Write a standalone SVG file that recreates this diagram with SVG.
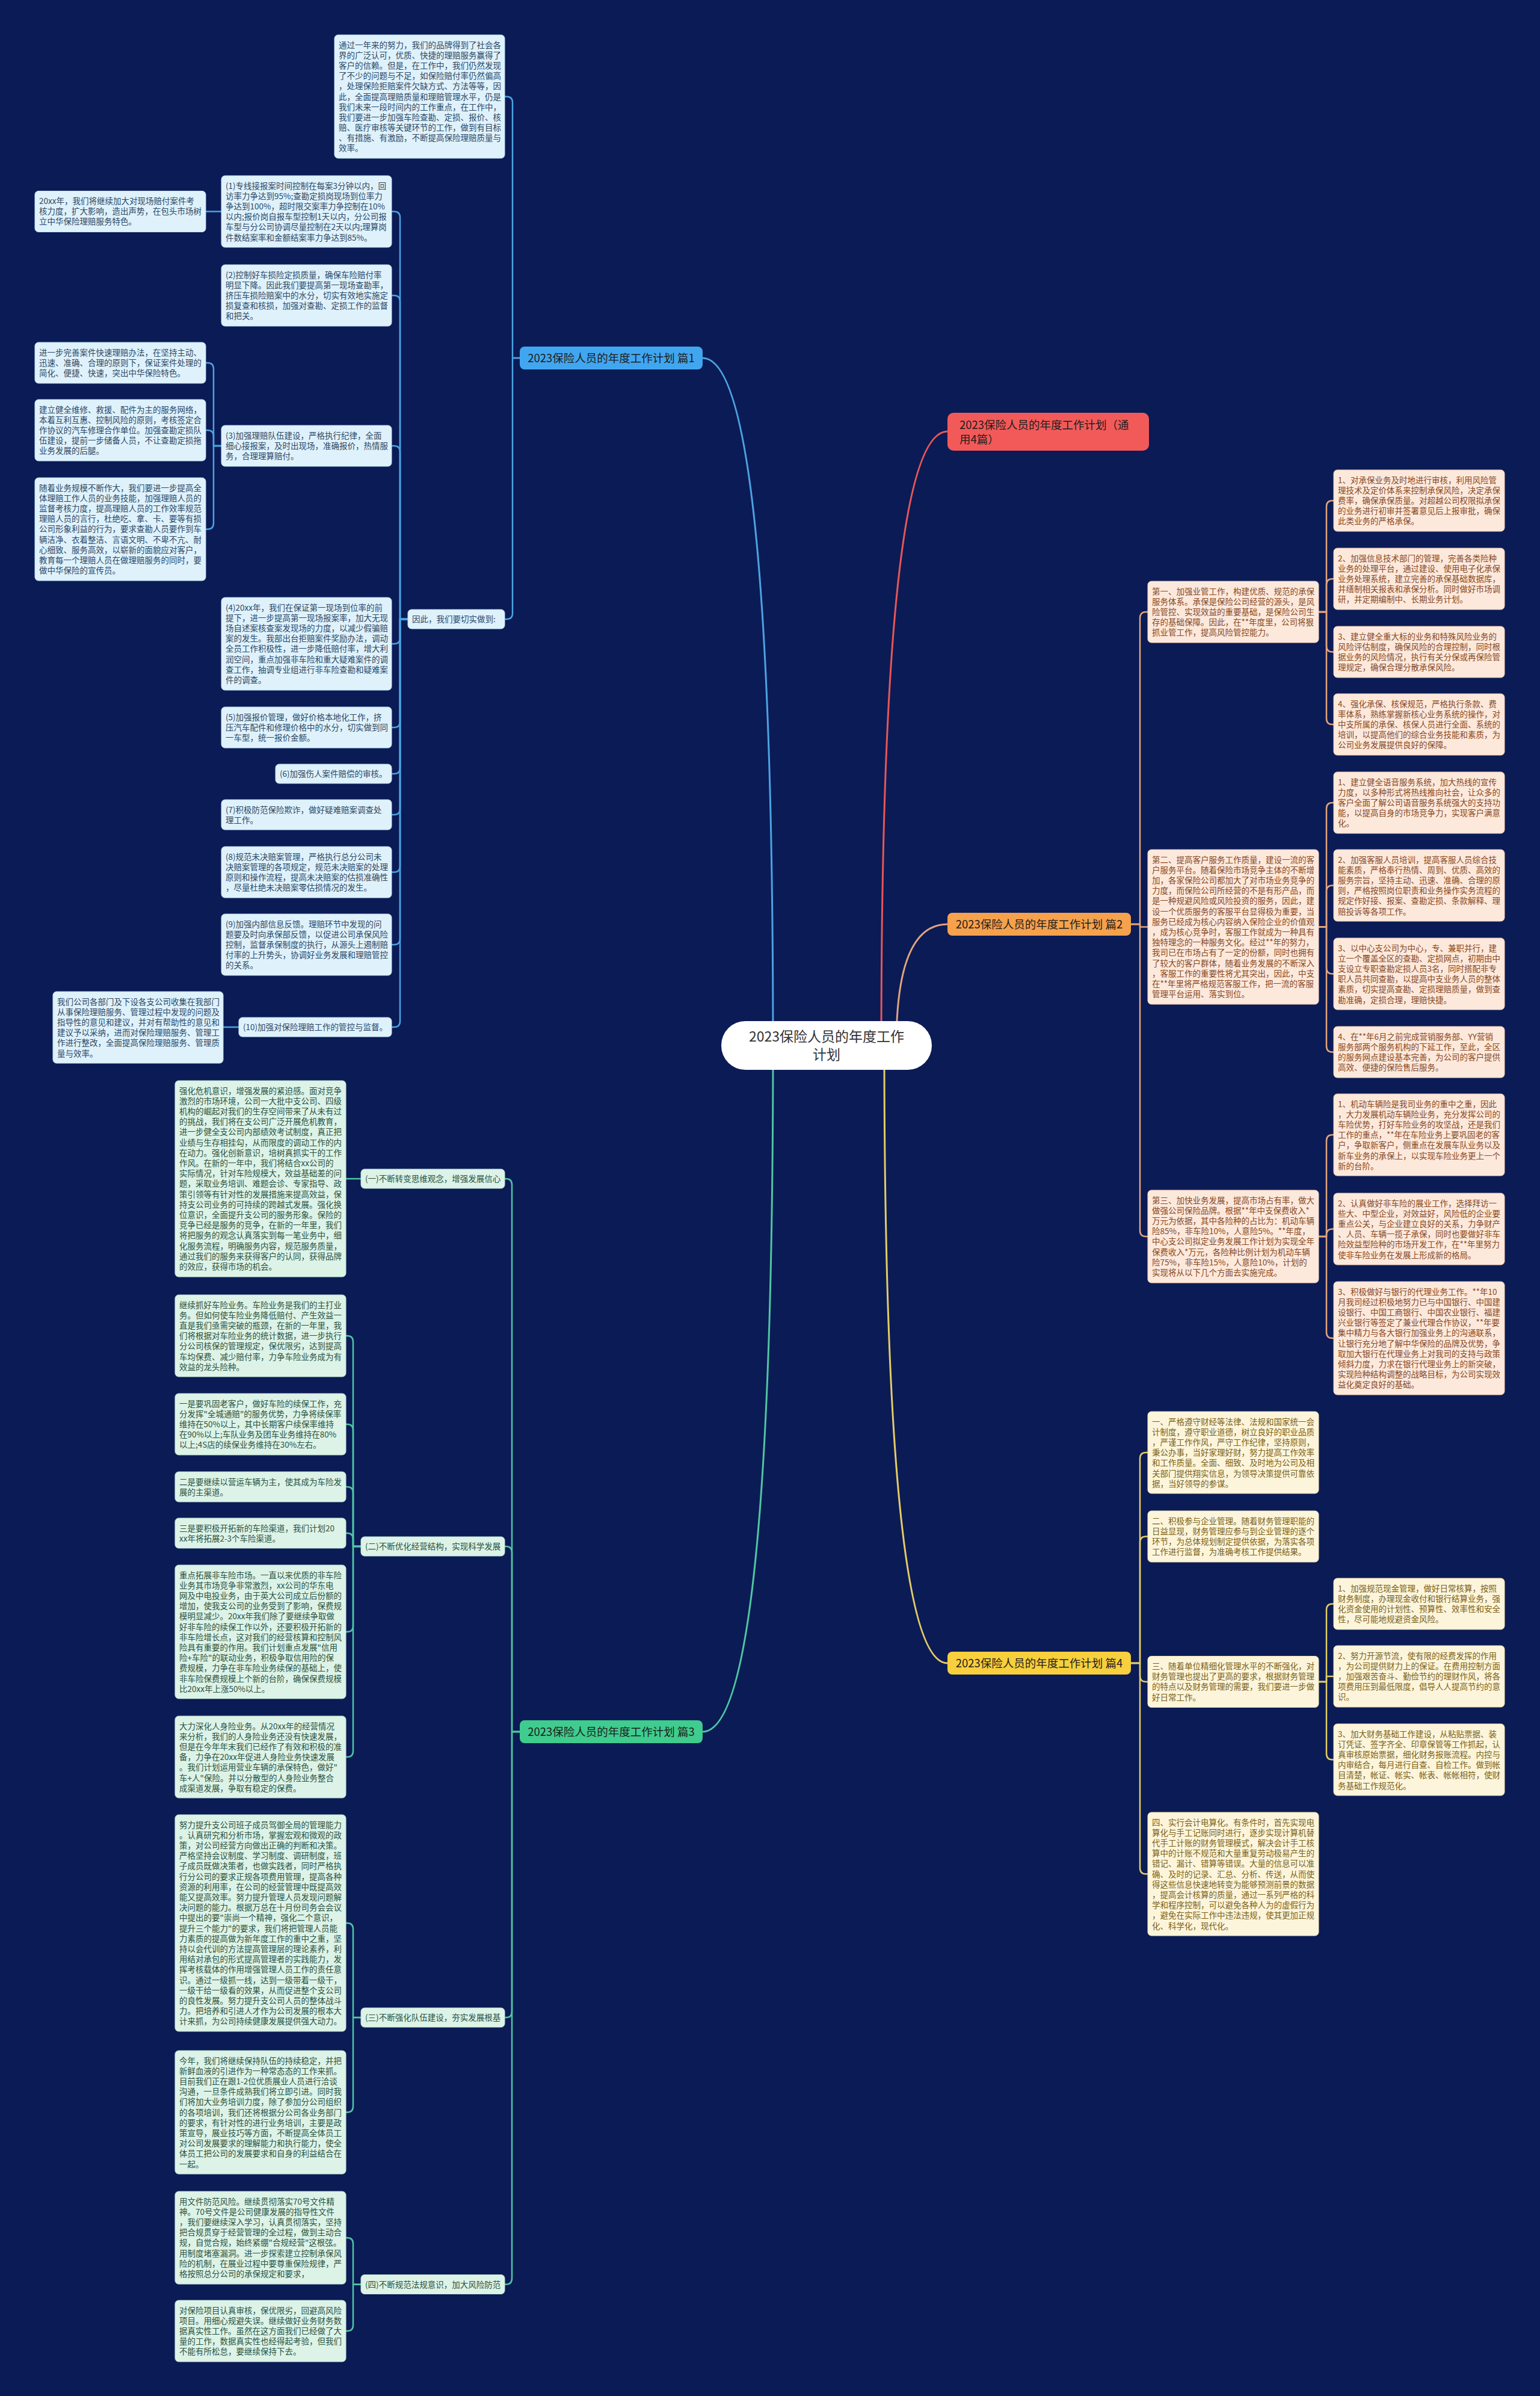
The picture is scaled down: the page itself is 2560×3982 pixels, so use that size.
<svg xmlns="http://www.w3.org/2000/svg" width="2560" height="3982" viewBox="0 0 2560 3982">
<style>
text{font-family:"Noto Sans CJK SC","Noto Sans",sans-serif;font-size:13.5px}
.c0,.c1,.c2,.c3,.c4{fill:none;stroke-width:2.5;stroke-linecap:round;stroke-linejoin:round}
.c0{stroke:#e85656;stroke-width:3}
.c1{stroke:#4ba3e3}
.c2{stroke:#e2a47c}
.c3{stroke:#4fc6a3}
.c4{stroke:#e3cc66}
.r{stroke-width:3}
.n1{fill:#dff2fc;stroke:#bcdff0;stroke-width:1}
.n2{fill:#fde9dc;stroke:#f0cdb8;stroke-width:1}
.n3{fill:#ddf3e8;stroke:#bfe3d1;stroke-width:1}
.n4{fill:#fdf5db;stroke:#efe0b0;stroke-width:1}
.x1{fill:#2c4866}
.x2{fill:#874823}
.x3{fill:#2a5240}
.x4{fill:#7a6118}
.h{font-size:18.5px;fill:#1d1d1d}
</style>
<rect x="0" y="0" width="2560" height="3982" fill="#0b1b55"/>
<g id="connectors">
<path class="c0" d="M1465,1737 Q1465,717 1575,717"/>
<path class="c1 r" d="M1285,1737 Q1285,595 1168,595"/>
<path class="c3 r" d="M1285,1737 Q1285,2878 1168,2878"/>
<path class="c2 r" d="M1490,1737 Q1490,1536 1575,1536"/>
<path class="c4 r" d="M1470,1737 Q1470,2764 1575,2764"/>
<path class="c1" d="M864,595 H852 V170.5 Q852,160.5 842,160.5 H839"/>
<path class="c1" d="M864,595 H852 V1019 Q852,1029 842,1029 H839"/>
<path class="c1" d="M678,1029 H665 V361.5 Q665,351.5 655,351.5 H651"/>
<path class="c1" d="M678,1029 H665 V501 Q665,491 655,491 H651"/>
<path class="c1" d="M678,1029 H665 V751 Q665,741 655,741 H651"/>
<path class="c1" d="M678,1029 H665 V1060 Q665,1070 655,1070 H651"/>
<path class="c1" d="M678,1029 H665 V1199 Q665,1209 655,1209 H651"/>
<path class="c1" d="M678,1029 H665 V1276 Q665,1286 655,1286 H651"/>
<path class="c1" d="M678,1029 H665 V1344 Q665,1354 655,1354 H651"/>
<path class="c1" d="M678,1029 H665 V1439.5 Q665,1449.5 655,1449.5 H651"/>
<path class="c1" d="M678,1029 H665 V1560 Q665,1570 655,1570 H651"/>
<path class="c1" d="M678,1029 H665 V1697 Q665,1707 655,1707 H651"/>
<path class="c1" d="M368,351.5 H342"/>
<path class="c1" d="M368,741 H355 V613 Q355,603 345,603 H342"/>
<path class="c1" d="M368,741 H355 V725 Q355,715 345,715 H342"/>
<path class="c1" d="M368,741 H355 V869.5 Q355,879.5 345,879.5 H342"/>
<path class="c1" d="M397,1707 H371"/>
<path class="c3" d="M864,2878 H851 V1969 Q851,1959 841,1959 H839"/>
<path class="c3" d="M864,2878 H851 V2580 Q851,2570 841,2570 H839"/>
<path class="c3" d="M864,2878 H851 V3343 Q851,3353 841,3353 H839"/>
<path class="c3" d="M864,2878 H851 V3786.5 Q851,3796.5 841,3796.5 H839"/>
<path class="c3" d="M600,1959 H575"/>
<path class="c3" d="M600,2570 H587 V2230 Q587,2220 577,2220 H575"/>
<path class="c3" d="M600,2570 H587 V2377 Q587,2367 577,2367 H575"/>
<path class="c3" d="M600,2570 H587 V2481 Q587,2471 577,2471 H575"/>
<path class="c3" d="M600,2570 H587 V2558 Q587,2548 577,2548 H575"/>
<path class="c3" d="M600,2570 H587 V2702 Q587,2712 577,2712 H575"/>
<path class="c3" d="M600,2570 H587 V2910 Q587,2920 577,2920 H575"/>
<path class="c3" d="M600,3353 H587 V3206 Q587,3196 577,3196 H575"/>
<path class="c3" d="M600,3353 H587 V3500.5 Q587,3510.5 577,3510.5 H575"/>
<path class="c3" d="M600,3796.5 H587 V3729 Q587,3719 577,3719 H575"/>
<path class="c3" d="M600,3796.5 H587 V3864 Q587,3874 577,3874 H575"/>
<path class="c2" d="M1880,1536 H1895 V1027 Q1895,1017 1905,1017 H1908"/>
<path class="c2" d="M1880,1536 H1895 V1540.5 H1908"/>
<path class="c2" d="M1880,1536 H1895 V2045 Q1895,2055 1905,2055 H1908"/>
<path class="c2" d="M2192,1017 H2205 V842 Q2205,832 2215,832 H2217"/>
<path class="c2" d="M2192,1017 H2205 V972 Q2205,962 2215,962 H2217"/>
<path class="c2" d="M2192,1017 H2205 V1073.5 Q2205,1083.5 2215,1083.5 H2217"/>
<path class="c2" d="M2192,1017 H2205 V1194 Q2205,1204 2215,1204 H2217"/>
<path class="c2" d="M2192,1540.5 H2205 V1344 Q2205,1334 2215,1334 H2217"/>
<path class="c2" d="M2192,1540.5 H2205 V1481.5 Q2205,1471.5 2215,1471.5 H2217"/>
<path class="c2" d="M2192,1540.5 H2205 V1608.5 Q2205,1618.5 2215,1618.5 H2217"/>
<path class="c2" d="M2192,1540.5 H2205 V1738.5 Q2205,1748.5 2215,1748.5 H2217"/>
<path class="c2" d="M2192,2055 H2205 V1896 Q2205,1886 2215,1886 H2217"/>
<path class="c2" d="M2192,2055 H2205 V2052.5 Q2205,2042.5 2215,2042.5 H2217"/>
<path class="c2" d="M2192,2055 H2205 V2214 Q2205,2224 2215,2224 H2217"/>
<path class="c4" d="M1880,2764 H1895 V2424 Q1895,2414 1905,2414 H1908"/>
<path class="c4" d="M1880,2764 H1895 V2563.5 Q1895,2553.5 1905,2553.5 H1908"/>
<path class="c4" d="M1880,2764 H1895 V2785 Q1895,2795 1905,2795 H1908"/>
<path class="c4" d="M1880,2764 H1895 V3104.5 Q1895,3114.5 1905,3114.5 H1908"/>
<path class="c4" d="M2192,2795 H2205 V2675.5 Q2205,2665.5 2215,2665.5 H2217"/>
<path class="c4" d="M2192,2795 H2205 V2786 H2217"/>
<path class="c4" d="M2192,2795 H2205 V2914.5 Q2205,2924.5 2215,2924.5 H2217"/>
</g>
<g id="root"><rect x="1199" y="1697" width="350" height="81" rx="40" fill="#ffffff"/><text x="1374" y="1731" text-anchor="middle" style="font-size:23px;fill:#333"><tspan x="1374">2023保险人员的年度工作</tspan><tspan x="1374" dy="30">计划</tspan></text></g>
<g id="p0"><rect x="1575" y="686" width="335" height="63" rx="10" fill="#f25a5a"/><text class="h" x="1595" y="712.5"><tspan x="1595">2023保险人员的年度工作计划（通</tspan><tspan x="1595" dy="24">用4篇）</tspan></text></g>
<g id="p1"><rect x="864" y="576" width="304" height="38" rx="8" fill="#41a6f0"/><text class="h" x="1016" y="601.5" text-anchor="middle">2023保险人员的年度工作计划 篇1</text></g>
<g id="p2"><rect x="1575" y="1517" width="305" height="38" rx="8" fill="#f6a14c"/><text class="h" x="1727.5" y="1542.5" text-anchor="middle">2023保险人员的年度工作计划 篇2</text></g>
<g id="p3"><rect x="864" y="2859" width="304" height="38" rx="8" fill="#3fcc8e"/><text class="h" x="1016" y="2884.5" text-anchor="middle">2023保险人员的年度工作计划 篇3</text></g>
<g id="p4"><rect x="1575" y="2745" width="305" height="38" rx="8" fill="#f8cf3c"/><text class="h" x="1727.5" y="2770.5" text-anchor="middle">2023保险人员的年度工作计划 篇4</text></g>
<g id="a-top"><rect class="n1" x="556" y="58" width="283" height="205" rx="6"/><text class="x1" x="563" y="79.5"><tspan x="563">通过一年来的努力，我们的品牌得到了社会各</tspan><tspan x="563" dy="17.2">界的广泛认可，优质、快捷的理赔服务赢得了</tspan><tspan x="563" dy="17.2">客户的信赖。但是，在工作中，我们仍然发现</tspan><tspan x="563" dy="17.2">了不少的问题与不足，如保险赔付率仍然偏高</tspan><tspan x="563" dy="17.2">，处理保险拒赔案件欠缺方式、方法等等，因</tspan><tspan x="563" dy="17.2">此，全面提高理赔质量和理赔管理水平，仍是</tspan><tspan x="563" dy="17.2">我们未来一段时间内的工作重点，在工作中，</tspan><tspan x="563" dy="17.2">我们要进一步加强车险查勘、定损、报价、核</tspan><tspan x="563" dy="17.2">赔、医疗审核等关键环节的工作，做到有目标</tspan><tspan x="563" dy="17.2">、有措施、有激励，不断提高保险理赔质量与</tspan><tspan x="563" dy="17.2">效率。</tspan></text></g>
<g id="a-yc"><rect class="n1" x="678" y="1013" width="161" height="32" rx="6"/><text class="x1" x="685" y="1034">因此，我们要切实做到:</text></g>
<g id="a1"><rect class="n1" x="368" y="292" width="283" height="119" rx="6"/><text class="x1" x="375" y="313.5"><tspan x="375">(1)专线接报案时间控制在每案3分钟以内，回</tspan><tspan x="375" dy="17.2">访率力争达到95%;查勘定损岗现场到位率力</tspan><tspan x="375" dy="17.2">争达到100%，超时限交案率力争控制在10%</tspan><tspan x="375" dy="17.2">以内;报价岗自报车型控制1天以内，分公司报</tspan><tspan x="375" dy="17.2">车型与分公司协调尽量控制在2天以内;理算岗</tspan><tspan x="375" dy="17.2">件数结案率和金额结案率力争达到85%。</tspan></text></g>
<g id="a1-1"><rect class="n1" x="58" y="317.5" width="284" height="68" rx="6"/><text class="x1" x="65" y="339"><tspan x="65">20xx年，我们将继续加大对现场赔付案件考</tspan><tspan x="65" dy="17.2">核力度，扩大影响，造出声势，在包头市场树</tspan><tspan x="65" dy="17.2">立中华保险理赔服务特色。</tspan></text></g>
<g id="a2"><rect class="n1" x="368" y="440" width="283" height="102" rx="6"/><text class="x1" x="375" y="461.5"><tspan x="375">(2)控制好车损险定损质量，确保车险赔付率</tspan><tspan x="375" dy="17.2">明显下降。因此我们要提高第一现场查勘率，</tspan><tspan x="375" dy="17.2">挤压车损险赔案中的水分，切实有效地实施定</tspan><tspan x="375" dy="17.2">损复查和核损，加强对查勘、定损工作的监督</tspan><tspan x="375" dy="17.2">和把关。</tspan></text></g>
<g id="a3"><rect class="n1" x="368" y="707" width="283" height="68" rx="6"/><text class="x1" x="375" y="728.5"><tspan x="375">(3)加强理赔队伍建设，严格执行纪律，全面</tspan><tspan x="375" dy="17.2">细心接报案，及时出现场，准确报价，热情服</tspan><tspan x="375" dy="17.2">务，合理理算赔付。</tspan></text></g>
<g id="a3-1"><rect class="n1" x="58" y="569" width="284" height="68" rx="6"/><text class="x1" x="65" y="590.5"><tspan x="65">进一步完善案件快速理赔办法，在坚持主动、</tspan><tspan x="65" dy="17.2">迅速、准确、合理的原则下，保证案件处理的</tspan><tspan x="65" dy="17.2">简化、便捷、快速，突出中华保险特色。</tspan></text></g>
<g id="a3-2"><rect class="n1" x="58" y="664" width="284" height="102" rx="6"/><text class="x1" x="65" y="685.5"><tspan x="65">建立健全维修、救援、配件为主的服务网络，</tspan><tspan x="65" dy="17.2">本着互利互惠、控制风险的原则，考核签定合</tspan><tspan x="65" dy="17.2">作协议的汽车修理合作单位。加强查勘定损队</tspan><tspan x="65" dy="17.2">伍建设，提前一步储备人员，不让查勘定损拖</tspan><tspan x="65" dy="17.2">业务发展的后腿。</tspan></text></g>
<g id="a3-3"><rect class="n1" x="58" y="794" width="284" height="171" rx="6"/><text class="x1" x="65" y="815.5"><tspan x="65">随着业务规模不断作大，我们要进一步提高全</tspan><tspan x="65" dy="17.2">体理赔工作人员的业务技能，加强理赔人员的</tspan><tspan x="65" dy="17.2">监督考核力度，提高理赔人员的工作效率规范</tspan><tspan x="65" dy="17.2">理赔人员的言行，杜绝吃、拿、卡、要等有损</tspan><tspan x="65" dy="17.2">公司形象利益的行为，要求查勘人员要作到车</tspan><tspan x="65" dy="17.2">辆洁净、衣着整洁、言语文明、不卑不亢、耐</tspan><tspan x="65" dy="17.2">心细致、服务高效，以崭新的面貌应对客户，</tspan><tspan x="65" dy="17.2">教育每一个理赔人员在做理赔服务的同时，要</tspan><tspan x="65" dy="17.2">做中华保险的宣传员。</tspan></text></g>
<g id="a4"><rect class="n1" x="368" y="993" width="283" height="154" rx="6"/><text class="x1" x="375" y="1014.5"><tspan x="375">(4)20xx年，我们在保证第一现场到位率的前</tspan><tspan x="375" dy="17.2">提下，进一步提高第一现场报案率，加大无现</tspan><tspan x="375" dy="17.2">场自述案核查案发现场的力度，以减少假骗赔</tspan><tspan x="375" dy="17.2">案的发生。我部出台拒赔案件奖励办法，调动</tspan><tspan x="375" dy="17.2">全员工作积极性，进一步降低赔付率，增大利</tspan><tspan x="375" dy="17.2">润空间，重点加强非车险和重大疑难案件的调</tspan><tspan x="375" dy="17.2">查工作，抽调专业组进行非车险查勘和疑难案</tspan><tspan x="375" dy="17.2">件的调查。</tspan></text></g>
<g id="a5"><rect class="n1" x="368" y="1175" width="283" height="68" rx="6"/><text class="x1" x="375" y="1196.5"><tspan x="375">(5)加强报价管理，做好价格本地化工作，挤</tspan><tspan x="375" dy="17.2">压汽车配件和修理价格中的水分，切实做到同</tspan><tspan x="375" dy="17.2">一车型，统一报价金额。</tspan></text></g>
<g id="a6"><rect class="n1" x="458" y="1270" width="193" height="32" rx="6"/><text class="x1" x="465" y="1291">(6)加强伤人案件赔偿的审核。</text></g>
<g id="a7"><rect class="n1" x="368" y="1329" width="283" height="50" rx="6"/><text class="x1" x="375" y="1350.5"><tspan x="375">(7)积极防范保险欺诈，做好疑难赔案调查处</tspan><tspan x="375" dy="17.2">理工作。</tspan></text></g>
<g id="a8"><rect class="n1" x="368" y="1407" width="283" height="85" rx="6"/><text class="x1" x="375" y="1428.5"><tspan x="375">(8)规范未决赔案管理，严格执行总分公司未</tspan><tspan x="375" dy="17.2">决赔案管理的各项规定，规范未决赔案的处理</tspan><tspan x="375" dy="17.2">原则和操作流程，提高未决赔案的估损准确性</tspan><tspan x="375" dy="17.2">，尽量杜绝未决赔案零估损情况的发生。</tspan></text></g>
<g id="a9"><rect class="n1" x="368" y="1519" width="283" height="102" rx="6"/><text class="x1" x="375" y="1540.5"><tspan x="375">(9)加强内部信息反馈。理赔环节中发现的问</tspan><tspan x="375" dy="17.2">题要及时向承保部反馈，以促进公司承保风险</tspan><tspan x="375" dy="17.2">控制，监督承保制度的执行，从源头上遏制赔</tspan><tspan x="375" dy="17.2">付率的上升势头，协调好业务发展和理赔管控</tspan><tspan x="375" dy="17.2">的关系。</tspan></text></g>
<g id="a10"><rect class="n1" x="397" y="1691" width="254" height="32" rx="6"/><text class="x1" x="404" y="1712">(10)加强对保险理赔工作的管控与监督。</text></g>
<g id="a10-1"><rect class="n1" x="88" y="1648" width="283" height="119" rx="6"/><text class="x1" x="95" y="1669.5"><tspan x="95">我们公司各部门及下设各支公司收集在我部门</tspan><tspan x="95" dy="17.2">从事保险理赔服务、管理过程中发现的问题及</tspan><tspan x="95" dy="17.2">指导性的意见和建议，并对有帮助性的意见和</tspan><tspan x="95" dy="17.2">建议予以采纳，进而对保险理赔服务、管理工</tspan><tspan x="95" dy="17.2">作进行整改，全面提高保险理赔服务、管理质</tspan><tspan x="95" dy="17.2">量与效率。</tspan></text></g>
<g id="c-l1"><rect class="n3" x="600" y="1943" width="239" height="32" rx="6"/><text class="x3" x="607" y="1964">(一)不断转变思维观念，增强发展信心</text></g>
<g id="c-l2"><rect class="n3" x="600" y="2554" width="239" height="32" rx="6"/><text class="x3" x="607" y="2575">(二)不断优化经营结构，实现科学发展</text></g>
<g id="c-l3"><rect class="n3" x="600" y="3337" width="239" height="32" rx="6"/><text class="x3" x="607" y="3358">(三)不断强化队伍建设，夯实发展根基</text></g>
<g id="c-l4"><rect class="n3" x="600" y="3780.5" width="239" height="32" rx="6"/><text class="x3" x="607" y="3801.5">(四)不断规范法规意识，加大风险防范</text></g>
<g id="c1"><rect class="n3" x="291" y="1796" width="284" height="326" rx="6"/><text class="x3" x="298" y="1817.5"><tspan x="298">强化危机意识，增强发展的紧迫感。面对竞争</tspan><tspan x="298" dy="17.2">激烈的市场环境，公司一大批中支公司、四级</tspan><tspan x="298" dy="17.2">机构的崛起对我们的生存空间带来了从未有过</tspan><tspan x="298" dy="17.2">的挑战，我们将在支公司广泛开展危机教育，</tspan><tspan x="298" dy="17.2">进一步健全支公司内部绩效考试制度，真正把</tspan><tspan x="298" dy="17.2">业绩与生存相挂勾，从而限度的调动工作的内</tspan><tspan x="298" dy="17.2">在动力。强化创新意识，培树真抓实干的工作</tspan><tspan x="298" dy="17.2">作风。在新的一年中，我们将结合xx公司的</tspan><tspan x="298" dy="17.2">实际情况，针对车险规模大，效益基础差的问</tspan><tspan x="298" dy="17.2">题，采取业务培训、难题会诊、专家指导、政</tspan><tspan x="298" dy="17.2">策引领等有针对性的发展措施来提高效益，保</tspan><tspan x="298" dy="17.2">持支公司业务的可持续的跨越式发展。强化换</tspan><tspan x="298" dy="17.2">位意识，全面提升支公司的服务形象。保险的</tspan><tspan x="298" dy="17.2">竞争已经是服务的竞争，在新的一年里，我们</tspan><tspan x="298" dy="17.2">将把服务的观念认真落实到每一笔业务中，细</tspan><tspan x="298" dy="17.2">化服务流程，明确服务内容，规范服务质量，</tspan><tspan x="298" dy="17.2">通过我们的服务来获得客户的认同，获得品牌</tspan><tspan x="298" dy="17.2">的效应，获得市场的机会。</tspan></text></g>
<g id="c2"><rect class="n3" x="291" y="2152" width="284" height="136" rx="6"/><text class="x3" x="298" y="2173.5"><tspan x="298">继续抓好车险业务。车险业务是我们的主打业</tspan><tspan x="298" dy="17.2">务。但如何使车险业务降低赔付、产生效益一</tspan><tspan x="298" dy="17.2">直是我们亟需突破的瓶颈，在新的一年里，我</tspan><tspan x="298" dy="17.2">们将根据对车险业务的统计数据，进一步执行</tspan><tspan x="298" dy="17.2">分公司核保的管理规定，保优限劣，达到提高</tspan><tspan x="298" dy="17.2">车均保费、减少赔付率，力争车险业务成为有</tspan><tspan x="298" dy="17.2">效益的龙头险种。</tspan></text></g>
<g id="c3"><rect class="n3" x="291" y="2316" width="284" height="102" rx="6"/><text class="x3" x="298" y="2337.5"><tspan x="298">一是要巩固老客户，做好车险的续保工作，充</tspan><tspan x="298" dy="17.2">分发挥"全城通赔"的服务优势，力争将续保率</tspan><tspan x="298" dy="17.2">维持在50%以上，其中长期客户续保率维持</tspan><tspan x="298" dy="17.2">在90%以上;车队业务及团车业务维持在80%</tspan><tspan x="298" dy="17.2">以上;4S店的续保业务维持在30%左右。</tspan></text></g>
<g id="c4"><rect class="n3" x="291" y="2446" width="284" height="50" rx="6"/><text class="x3" x="298" y="2467.5"><tspan x="298">二是要继续以营运车辆为主，使其成为车险发</tspan><tspan x="298" dy="17.2">展的主渠道。</tspan></text></g>
<g id="c5"><rect class="n3" x="291" y="2523" width="284" height="50" rx="6"/><text class="x3" x="298" y="2544.5"><tspan x="298">三是要积极开拓新的车险渠道，我们计划20</tspan><tspan x="298" dy="17.2">xx年将拓展2-3个车险渠道。</tspan></text></g>
<g id="c6"><rect class="n3" x="291" y="2601" width="284" height="222" rx="6"/><text class="x3" x="298" y="2622.5"><tspan x="298">重点拓展非车险市场。一直以来优质的非车险</tspan><tspan x="298" dy="17.2">业务其市场竞争非常激烈，xx公司的华东电</tspan><tspan x="298" dy="17.2">网及中电投业务，由于英大公司成立后份额的</tspan><tspan x="298" dy="17.2">增加，使我支公司的业务受到了影响，保费规</tspan><tspan x="298" dy="17.2">模明显减少。20xx年我们除了要继续争取做</tspan><tspan x="298" dy="17.2">好非车险的续保工作以外，还要积极开拓新的</tspan><tspan x="298" dy="17.2">非车险增长点，这对我们的经营核算和控制风</tspan><tspan x="298" dy="17.2">险具有重要的作用。我们计划重点发展"信用</tspan><tspan x="298" dy="17.2">险+车险"的联动业务，积极争取信用险的保</tspan><tspan x="298" dy="17.2">费规模，力争在非车险业务续保的基础上，使</tspan><tspan x="298" dy="17.2">非车险保费规模上个新的台阶，确保保费规模</tspan><tspan x="298" dy="17.2">比20xx年上涨50%以上。</tspan></text></g>
<g id="c7"><rect class="n3" x="291" y="2852" width="284" height="136" rx="6"/><text class="x3" x="298" y="2873.5"><tspan x="298">大力深化人身险业务。从20xx年的经营情况</tspan><tspan x="298" dy="17.2">来分析，我们的人身险业务还没有快速发展，</tspan><tspan x="298" dy="17.2">但是在今年年末我们已经作了有效和积极的准</tspan><tspan x="298" dy="17.2">备，力争在20xx年促进人身险业务快速发展</tspan><tspan x="298" dy="17.2">。我们计划运用营业车辆的承保特色，做好"</tspan><tspan x="298" dy="17.2">车+人"保险。并以分散型的人身险业务整合</tspan><tspan x="298" dy="17.2">成渠道发展，争取有稳定的保费。</tspan></text></g>
<g id="c8"><rect class="n3" x="291" y="3016" width="284" height="360" rx="6"/><text class="x3" x="298" y="3037.5"><tspan x="298">努力提升支公司班子成员驾御全局的管理能力</tspan><tspan x="298" dy="17.2">。认真研究和分析市场，掌握宏观和微观的政</tspan><tspan x="298" dy="17.2">策，对公司经营方向做出正确的判断和决策。</tspan><tspan x="298" dy="17.2">严格坚持会议制度、学习制度、调研制度，班</tspan><tspan x="298" dy="17.2">子成员既做决策者，也做实践者，同时严格执</tspan><tspan x="298" dy="17.2">行分公司的要求正规各项费用管理，提高各种</tspan><tspan x="298" dy="17.2">资源的利用率，在公司的经营管理中既提高效</tspan><tspan x="298" dy="17.2">能又提高效率。努力提升管理人员发现问题解</tspan><tspan x="298" dy="17.2">决问题的能力。根据万总在十月份司务会会议</tspan><tspan x="298" dy="17.2">中提出的要"崇尚一个精神，强化二个意识，</tspan><tspan x="298" dy="17.2">提升三个能力"的要求，我们将把管理人员能</tspan><tspan x="298" dy="17.2">力素质的提高做为新年度工作的重中之重，坚</tspan><tspan x="298" dy="17.2">持以会代训的方法提高管理层的理论素养，利</tspan><tspan x="298" dy="17.2">用结对承包的形式提高管理者的实践能力，发</tspan><tspan x="298" dy="17.2">挥考核载体的作用增强管理人员工作的责任意</tspan><tspan x="298" dy="17.2">识。通过一级抓一线，达到一级带着一级干，</tspan><tspan x="298" dy="17.2">一级干给一级看的效果，从而促进整个支公司</tspan><tspan x="298" dy="17.2">的良性发展。努力提升支公司人员的整体战斗</tspan><tspan x="298" dy="17.2">力。把培养和引进人才作为公司发展的根本大</tspan><tspan x="298" dy="17.2">计来抓，为公司持续健康发展提供强大动力。</tspan></text></g>
<g id="c9"><rect class="n3" x="291" y="3408" width="284" height="205" rx="6"/><text class="x3" x="298" y="3429.5"><tspan x="298">今年，我们将继续保持队伍的持续稳定，并把</tspan><tspan x="298" dy="17.2">新鲜血液的引进作为一种常态态的工作来抓。</tspan><tspan x="298" dy="17.2">目前我们正在跟1-2位优质展业人员进行洽谈</tspan><tspan x="298" dy="17.2">沟通，一旦条件成熟我们将立即引进。同时我</tspan><tspan x="298" dy="17.2">们将加大业务培训力度，除了参加分公司组织</tspan><tspan x="298" dy="17.2">的各项培训，我们还将根据分公司各业务部门</tspan><tspan x="298" dy="17.2">的要求，有针对性的进行业务培训，主要是政</tspan><tspan x="298" dy="17.2">策宣导，展业技巧等方面，不断提高全体员工</tspan><tspan x="298" dy="17.2">对公司发展要求的理解能力和执行能力，使全</tspan><tspan x="298" dy="17.2">体员工把公司的发展要求和自身的利益结合在</tspan><tspan x="298" dy="17.2">一起。</tspan></text></g>
<g id="c10"><rect class="n3" x="291" y="3642" width="284" height="154" rx="6"/><text class="x3" x="298" y="3663.5"><tspan x="298">用文件防范风险。继续贯彻落实70号文件精</tspan><tspan x="298" dy="17.2">神。70号文件是公司健康发展的指导性文件</tspan><tspan x="298" dy="17.2">，我们要继续深入学习，认真贯彻落实，坚持</tspan><tspan x="298" dy="17.2">把合规贯穿于经营管理的全过程，做到主动合</tspan><tspan x="298" dy="17.2">规，自觉合规，始终紧绷"合规经营"这根弦。</tspan><tspan x="298" dy="17.2">用制度堵塞漏洞。进一步探索建立控制承保风</tspan><tspan x="298" dy="17.2">险的机制，在展业过程中要尊重保险规律，严</tspan><tspan x="298" dy="17.2">格按照总分公司的承保规定和要求，</tspan></text></g>
<g id="c11"><rect class="n3" x="291" y="3823" width="284" height="102" rx="6"/><text class="x3" x="298" y="3844.5"><tspan x="298">对保险项目认真审核，保优限劣，回避高风险</tspan><tspan x="298" dy="17.2">项目。用细心规避失误。继续做好业务财务数</tspan><tspan x="298" dy="17.2">据真实性工作。虽然在这方面我们已经做了大</tspan><tspan x="298" dy="17.2">量的工作，数据真实性也经得起考验，但我们</tspan><tspan x="298" dy="17.2">不能有所松怠，要继续保持下去。</tspan></text></g>
<g id="b1"><rect class="n2" x="1908" y="966" width="284" height="102" rx="6"/><text class="x2" x="1915" y="987.5"><tspan x="1915">第一、加强业管工作，构建优质、规范的承保</tspan><tspan x="1915" dy="17.2">服务体系。承保是保险公司经营的源头，是风</tspan><tspan x="1915" dy="17.2">险管控、实现效益的重要基础，是保险公司生</tspan><tspan x="1915" dy="17.2">存的基础保障。因此，在**年度里，公司将狠</tspan><tspan x="1915" dy="17.2">抓业管工作，提高风险管控能力。</tspan></text></g>
<g id="b1-1"><rect class="n2" x="2217" y="781" width="284" height="102" rx="6"/><text class="x2" x="2224" y="802.5"><tspan x="2224">1、对承保业务及时地进行审核，利用风险管</tspan><tspan x="2224" dy="17.2">理技术及定价体系来控制承保风险，决定承保</tspan><tspan x="2224" dy="17.2">费率，确保承保质量。对超越公司权限拟承保</tspan><tspan x="2224" dy="17.2">的业务进行初审并签署意见后上报审批，确保</tspan><tspan x="2224" dy="17.2">此类业务的严格承保。</tspan></text></g>
<g id="b1-2"><rect class="n2" x="2217" y="911" width="284" height="102" rx="6"/><text class="x2" x="2224" y="932.5"><tspan x="2224">2、加强信息技术部门的管理，完善各类险种</tspan><tspan x="2224" dy="17.2">业务的处理平台，通过建设、使用电子化承保</tspan><tspan x="2224" dy="17.2">业务处理系统，建立完善的承保基础数据库，</tspan><tspan x="2224" dy="17.2">并缮制相关报表和承保分析。同时做好市场调</tspan><tspan x="2224" dy="17.2">研，并定期编制中、长期业务计划。</tspan></text></g>
<g id="b1-3"><rect class="n2" x="2217" y="1041" width="284" height="85" rx="6"/><text class="x2" x="2224" y="1062.5"><tspan x="2224">3、建立健全重大标的业务和特殊风险业务的</tspan><tspan x="2224" dy="17.2">风险评估制度，确保风险的合理控制，同时根</tspan><tspan x="2224" dy="17.2">据业务的风险情况，执行有关分保或再保险管</tspan><tspan x="2224" dy="17.2">理规定，确保合理分散承保风险。</tspan></text></g>
<g id="b1-4"><rect class="n2" x="2217" y="1153" width="284" height="102" rx="6"/><text class="x2" x="2224" y="1174.5"><tspan x="2224">4、强化承保、核保规范，严格执行条款、费</tspan><tspan x="2224" dy="17.2">率体系，熟练掌握新核心业务系统的操作，对</tspan><tspan x="2224" dy="17.2">中支所属的承保、核保人员进行全面、系统的</tspan><tspan x="2224" dy="17.2">培训，以提高他们的综合业务技能和素质，为</tspan><tspan x="2224" dy="17.2">公司业务发展提供良好的保障。</tspan></text></g>
<g id="b2"><rect class="n2" x="1908" y="1412" width="284" height="257" rx="6"/><text class="x2" x="1915" y="1433.5"><tspan x="1915">第二、提高客户服务工作质量，建设一流的客</tspan><tspan x="1915" dy="17.2">户服务平台。随着保险市场竞争主体的不断增</tspan><tspan x="1915" dy="17.2">加，各家保险公司都加大了对市场业务竞争的</tspan><tspan x="1915" dy="17.2">力度，而保险公司所经营的不是有形产品，而</tspan><tspan x="1915" dy="17.2">是一种规避风险或风险投资的服务，因此，建</tspan><tspan x="1915" dy="17.2">设一个优质服务的客服平台显得极为重要，当</tspan><tspan x="1915" dy="17.2">服务已经成为核心内容纳入保险企业的价值观</tspan><tspan x="1915" dy="17.2">，成为核心竞争时，客服工作就成为一种具有</tspan><tspan x="1915" dy="17.2">独特理念的一种服务文化。经过**年的努力，</tspan><tspan x="1915" dy="17.2">我司已在市场占有了一定的份额，同时也拥有</tspan><tspan x="1915" dy="17.2">了较大的客户群体，随着业务发展的不断深入</tspan><tspan x="1915" dy="17.2">，客服工作的重要性将尤其突出，因此，中支</tspan><tspan x="1915" dy="17.2">在**年里将严格规范客服工作，把一流的客服</tspan><tspan x="1915" dy="17.2">管理平台运用、落实到位。</tspan></text></g>
<g id="b2-1"><rect class="n2" x="2217" y="1283" width="284" height="102" rx="6"/><text class="x2" x="2224" y="1304.5"><tspan x="2224">1、建立健全语音服务系统，加大热线的宣传</tspan><tspan x="2224" dy="17.2">力度，以多种形式将热线推向社会，让众多的</tspan><tspan x="2224" dy="17.2">客户全面了解公司语音服务系统强大的支持功</tspan><tspan x="2224" dy="17.2">能，以提高自身的市场竞争力，实现客户满意</tspan><tspan x="2224" dy="17.2">化。</tspan></text></g>
<g id="b2-2"><rect class="n2" x="2217" y="1412" width="284" height="119" rx="6"/><text class="x2" x="2224" y="1433.5"><tspan x="2224">2、加强客服人员培训，提高客服人员综合技</tspan><tspan x="2224" dy="17.2">能素质，严格奉行热情、周到、优质、高效的</tspan><tspan x="2224" dy="17.2">服务宗旨，坚持主动、迅速、准确、合理的原</tspan><tspan x="2224" dy="17.2">则，严格按照岗位职责和业务操作实务流程的</tspan><tspan x="2224" dy="17.2">规定作好接、报案、查勘定损、条款解释、理</tspan><tspan x="2224" dy="17.2">赔投诉等各项工作。</tspan></text></g>
<g id="b2-3"><rect class="n2" x="2217" y="1559" width="284" height="119" rx="6"/><text class="x2" x="2224" y="1580.5"><tspan x="2224">3、以中心支公司为中心，专、兼职并行，建</tspan><tspan x="2224" dy="17.2">立一个覆盖全区的查勘、定损网点，初期由中</tspan><tspan x="2224" dy="17.2">支设立专职查勘定损人员3名，同时搭配非专</tspan><tspan x="2224" dy="17.2">职人员共同查勘，以提高中支业务人员的整体</tspan><tspan x="2224" dy="17.2">素质，切实提高查勘、定损理赔质量，做到查</tspan><tspan x="2224" dy="17.2">勘准确，定损合理，理赔快捷。</tspan></text></g>
<g id="b2-4"><rect class="n2" x="2217" y="1706" width="284" height="85" rx="6"/><text class="x2" x="2224" y="1727.5"><tspan x="2224">4、在**年6月之前完成营销服务部、YY营销</tspan><tspan x="2224" dy="17.2">服务部两个服务机构的下延工作，至此，全区</tspan><tspan x="2224" dy="17.2">的服务网点建设基本完善，为公司的客户提供</tspan><tspan x="2224" dy="17.2">高效、便捷的保险售后服务。</tspan></text></g>
<g id="b3"><rect class="n2" x="1908" y="1978" width="284" height="154" rx="6"/><text class="x2" x="1915" y="1999.5"><tspan x="1915">第三、加快业务发展，提高市场占有率，做大</tspan><tspan x="1915" dy="17.2">做强公司保险品牌。根据**年中支保费收入*</tspan><tspan x="1915" dy="17.2">万元为依据，其中各险种的占比为：机动车辆</tspan><tspan x="1915" dy="17.2">险85%，非车险10%，人意险5%。**年度，</tspan><tspan x="1915" dy="17.2">中心支公司拟定业务发展工作计划为实现全年</tspan><tspan x="1915" dy="17.2">保费收入*万元，各险种比例计划为机动车辆</tspan><tspan x="1915" dy="17.2">险75%，非车险15%，人意险10%，计划的</tspan><tspan x="1915" dy="17.2">实现将从以下几个方面去实施完成。</tspan></text></g>
<g id="b3-1"><rect class="n2" x="2217" y="1818" width="284" height="136" rx="6"/><text class="x2" x="2224" y="1839.5"><tspan x="2224">1、机动车辆险是我司业务的重中之重，因此</tspan><tspan x="2224" dy="17.2">，大力发展机动车辆险业务，充分发挥公司的</tspan><tspan x="2224" dy="17.2">车险优势，打好车险业务的攻坚战，还是我们</tspan><tspan x="2224" dy="17.2">工作的重点，**年在车险业务上要巩固老的客</tspan><tspan x="2224" dy="17.2">户，争取新客户，侧重点在发展车队业务以及</tspan><tspan x="2224" dy="17.2">新车业务的承保上，以实现车险业务更上一个</tspan><tspan x="2224" dy="17.2">新的台阶。</tspan></text></g>
<g id="b3-2"><rect class="n2" x="2217" y="1983" width="284" height="119" rx="6"/><text class="x2" x="2224" y="2004.5"><tspan x="2224">2、认真做好非车险的展业工作，选择拜访一</tspan><tspan x="2224" dy="17.2">些大、中型企业，对效益好，风险低的企业要</tspan><tspan x="2224" dy="17.2">重点公关，与企业建立良好的关系，力争财产</tspan><tspan x="2224" dy="17.2">、人员、车辆一揽子承保，同时也要做好非车</tspan><tspan x="2224" dy="17.2">险效益型险种的市场开发工作，在**年里努力</tspan><tspan x="2224" dy="17.2">使非车险业务在发展上形成新的格局。</tspan></text></g>
<g id="b3-3"><rect class="n2" x="2217" y="2130" width="284" height="188" rx="6"/><text class="x2" x="2224" y="2151.5"><tspan x="2224">3、积极做好与银行的代理业务工作。**年10</tspan><tspan x="2224" dy="17.2">月我司经过积极地努力已与中国银行、中国建</tspan><tspan x="2224" dy="17.2">设银行、中国工商银行、中国农业银行、福建</tspan><tspan x="2224" dy="17.2">兴业银行等签定了兼业代理合作协议，**年要</tspan><tspan x="2224" dy="17.2">集中精力与各大银行加强业务上的沟通联系，</tspan><tspan x="2224" dy="17.2">让银行充分地了解中华保险的品牌及优势，争</tspan><tspan x="2224" dy="17.2">取加大银行在代理业务上对我司的支持与政策</tspan><tspan x="2224" dy="17.2">倾斜力度，力求在银行代理业务上的新突破，</tspan><tspan x="2224" dy="17.2">实现险种结构调整的战略目标，为公司实现效</tspan><tspan x="2224" dy="17.2">益化奠定良好的基础。</tspan></text></g>
<g id="d1"><rect class="n4" x="1908" y="2346" width="284" height="136" rx="6"/><text class="x4" x="1915" y="2367.5"><tspan x="1915">一、严格遵守财经等法律、法规和国家统一会</tspan><tspan x="1915" dy="17.2">计制度，遵守职业道德，树立良好的职业品质</tspan><tspan x="1915" dy="17.2">，严谨工作作风，严守工作纪律，坚持原则，</tspan><tspan x="1915" dy="17.2">秉公办事，当好家理好财，努力提高工作效率</tspan><tspan x="1915" dy="17.2">和工作质量。全面、细致、及时地为公司及相</tspan><tspan x="1915" dy="17.2">关部门提供翔实信息，为领导决策提供可靠依</tspan><tspan x="1915" dy="17.2">据，当好领导的参谋。</tspan></text></g>
<g id="d2"><rect class="n4" x="1908" y="2511" width="284" height="85" rx="6"/><text class="x4" x="1915" y="2532.5"><tspan x="1915">二、积极参与企业管理。随着财务管理职能的</tspan><tspan x="1915" dy="17.2">日益显现，财务管理应参与到企业管理的逐个</tspan><tspan x="1915" dy="17.2">环节，为总体规划制定提供依据，为落实各项</tspan><tspan x="1915" dy="17.2">工作进行监督，为准确考核工作提供结果。</tspan></text></g>
<g id="d3"><rect class="n4" x="1908" y="2752.5" width="284" height="85" rx="6"/><text class="x4" x="1915" y="2774"><tspan x="1915">三、随着单位精细化管理水平的不断强化，对</tspan><tspan x="1915" dy="17.2">财务管理也提出了更高的要求，根据财务管理</tspan><tspan x="1915" dy="17.2">的特点以及财务管理的需要，我们要进一步做</tspan><tspan x="1915" dy="17.2">好日常工作。</tspan></text></g>
<g id="d3-1"><rect class="n4" x="2217" y="2623" width="284" height="85" rx="6"/><text class="x4" x="2224" y="2644.5"><tspan x="2224">1、加强规范现金管理，做好日常核算，按照</tspan><tspan x="2224" dy="17.2">财务制度，办理现金收付和银行结算业务，强</tspan><tspan x="2224" dy="17.2">化资金使用的计划性、预算性、效率性和安全</tspan><tspan x="2224" dy="17.2">性，尽可能地规避资金风险。</tspan></text></g>
<g id="d3-2"><rect class="n4" x="2217" y="2735" width="284" height="102" rx="6"/><text class="x4" x="2224" y="2756.5"><tspan x="2224">2、努力开源节流，使有限的经费发挥的作用</tspan><tspan x="2224" dy="17.2">，为公司提供财力上的保证。在费用控制方面</tspan><tspan x="2224" dy="17.2">，加强艰苦奋斗、勤俭节约的理财作风，将各</tspan><tspan x="2224" dy="17.2">项费用压到最低限度，倡导人人提高节约的意</tspan><tspan x="2224" dy="17.2">识。</tspan></text></g>
<g id="d3-3"><rect class="n4" x="2217" y="2865" width="284" height="119" rx="6"/><text class="x4" x="2224" y="2886.5"><tspan x="2224">3、加大财务基础工作建设，从粘贴票据、装</tspan><tspan x="2224" dy="17.2">订凭证、签字齐全、印章保管等工作抓起，认</tspan><tspan x="2224" dy="17.2">真审核原始票据，细化财务报账流程。内控与</tspan><tspan x="2224" dy="17.2">内审结合，每月进行自查、自检工作。做到帐</tspan><tspan x="2224" dy="17.2">目清楚，帐证、帐实、帐表、帐帐相符，使财</tspan><tspan x="2224" dy="17.2">务基础工作规范化。</tspan></text></g>
<g id="d4"><rect class="n4" x="1908" y="3012" width="284" height="205" rx="6"/><text class="x4" x="1915" y="3033.5"><tspan x="1915">四、实行会计电算化。有条件时，首先实现电</tspan><tspan x="1915" dy="17.2">算化与手工记账同时进行，逐步实现计算机替</tspan><tspan x="1915" dy="17.2">代手工计账的财务管理模式，解决会计手工核</tspan><tspan x="1915" dy="17.2">算中的计账不规范和大量重复劳动极易产生的</tspan><tspan x="1915" dy="17.2">错记、漏计、错算等错误。大量的信息可以准</tspan><tspan x="1915" dy="17.2">确、及时的记录、汇总、分析、传送，从而使</tspan><tspan x="1915" dy="17.2">得这些信息快速地转变为能够预测前景的数据</tspan><tspan x="1915" dy="17.2">，提高会计核算的质量，通过一系列严格的科</tspan><tspan x="1915" dy="17.2">学和程序控制，可以避免各种人为的虚假行为</tspan><tspan x="1915" dy="17.2">，避免在实际工作中违法违规，使其更加正规</tspan><tspan x="1915" dy="17.2">化、科学化，现代化。</tspan></text></g>
</svg>
